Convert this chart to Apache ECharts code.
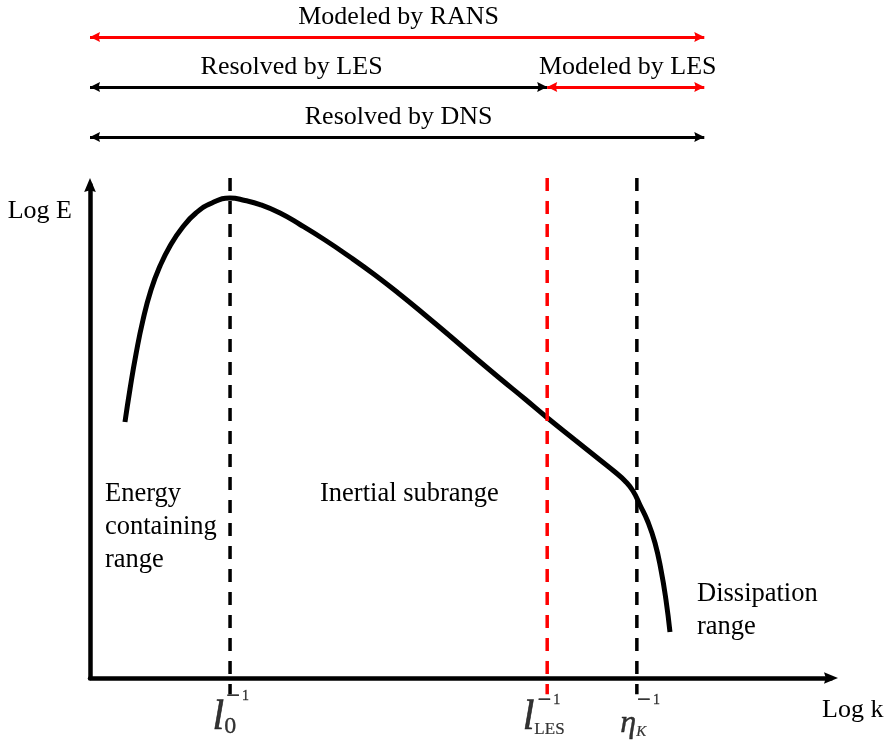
<!DOCTYPE html>
<html>
<head>
<meta charset="utf-8">
<script src="https://cdn.jsdelivr.net/npm/echarts@6/dist/echarts.min.js"></script>
<style>
  html, body { margin: 0; padding: 0; background: #fff; }
  #chart { width: 885px; height: 743px; }
</style>
</head>
<body>
<div id="chart"></div>
<script>
// Turbulent kinetic energy spectrum, log E against log k (arbitrary units 0..100)
const logK = [4.72, 5.40, 6.21, 7.15, 8.23, 9.45, 10.80, 12.42, 14.30, 16.46, 18.89,
              20.92, 22.94, 25.64, 28.34, 31.71, 35.09, 38.46, 41.84, 45.21, 48.58, 51.96, 55.33,
              58.70, 61.67, 65.45, 68.83, 70.85, 72.20, 73.28, 74.22, 75.30, 76.25, 77.06, 77.73, 78.27];
const logE = [51.93, 58.62, 65.72, 72.62, 78.70, 83.57, 87.63, 91.28, 94.32, 96.35, 97.36,
              96.86, 96.04, 94.32, 91.99, 88.84, 85.40, 81.74, 77.79, 73.63, 69.37, 65.01, 60.75,
              56.59, 52.84, 48.28, 44.22, 41.78, 39.96, 37.93, 35.09, 31.64, 27.38, 21.91, 15.82, 9.33];

// Characteristic wavenumbers: integral scale, LES filter, Kolmogorov scale
const scaleK = [18.9, 61.7, 73.8];
const scaleMain = ['{l|l}{n|0}', '{l|l}{les|LES}', '{eta|η}{kk|K}'];
const scaleSup = ['{m|−}{o|1}', '{m|−}{o|1}', '{m|−}{o|1}'];

// Resolved / modelled wavenumber ranges (row 0 = top)
const rangeNames = ['Modeled by RANS', 'Resolved by LES', 'Modeled by LES', 'Resolved by DNS'];
const rangeFrom  = [0, 0, 61.7, 0];
const rangeTo    = [82.9, 61.7, 82.9, 82.9];
const rangeRow   = [0, 1, 1, 2];
const rangeIsModel = [true, false, true, false];

// Spectral regions
const regionNames = ['Energy\ncontaining\nrange', 'Inertial subrange', 'Dissipation\nrange'];

const SERIF = '"Liberation Serif", "Times New Roman", serif';
const RED = '#ff0000';
const BLACK = '#000000';
const axisArrow = 'path://M5,0L10,12L5,10.4L0,12Z';
// arrow head whose tip sits at the symbol centre (upper half left empty)
const lineArrow = 'path://M5,0L5,0M5,10L10,20L5,18.6L0,20Z';

const guideTop = 101.4;
const guideBottom = -3.3;
const guideColor = [BLACK, RED, BLACK];

// label placement relative to each wavenumber (pixels)
const mainOffset = [[-17, 16.6], [-24, 16.6], [-16, 8.8]];
const supOffset  = [[-3, 19], [-9, 23], [1, 23]];

const chart = echarts.init(document.getElementById('chart'), null, { renderer: 'canvas' });

const series = [];

// energy spectrum curve
series.push({
  type: 'line',
  xAxisIndex: 0, yAxisIndex: 0,
  data: logK.map((k, i) => [k, logE[i]]),
  smooth: 0.5,
  symbol: 'none',
  lineStyle: { color: BLACK, width: 5 },
  z: 2,
  silent: true
});

// dashed guides at the characteristic wavenumbers
scaleK.forEach((k, i) => {
  series.push({
    type: 'line',
    xAxisIndex: 0, yAxisIndex: 0,
    data: [[k, guideTop], [k, guideBottom]],
    clip: false,
    symbol: 'none',
    lineStyle: { color: guideColor[i], width: 3.5, type: [13, 10] },
    z: 3,
    silent: true
  });
});

const glyph = (extra) => Object.assign({ fontFamily: SERIF, color: BLACK, verticalAlign: 'bottom',
  textBorderColor: BLACK, textBorderWidth: 0.6 }, extra);

// wavenumber symbols below the axis
series.push({
  type: 'scatter',
  xAxisIndex: 0, yAxisIndex: 0,
  clip: false,
  symbolSize: 1,
  itemStyle: { color: 'rgba(255,255,255,0)' },
  silent: true,
  z: 5,
  data: scaleK.map((k, i) => ({
    value: [k, 0],
    label: {
      show: true,
      position: mainOffset[i],
      align: 'left',
      verticalAlign: 'top',
      color: BLACK,
      formatter: scaleMain[i],
      rich: {
        l:   glyph({ fontStyle: 'italic', fontSize: 42, lineHeight: 44.4 }),
        n:   glyph({ fontSize: 24, lineHeight: 32.2, textBorderWidth: 0.3 }),
        les: glyph({ fontSize: 17, lineHeight: 23.5, textBorderWidth: 0.2 }),
        eta: glyph({ fontStyle: 'italic', fontSize: 32, lineHeight: 53.6, textBorderWidth: 0.4 }),
        kk:  glyph({ fontStyle: 'italic', fontSize: 15, lineHeight: 26.1, textBorderWidth: 0.2 })
      }
    }
  }))
});

// superscript -1 on each wavenumber
series.push({
  type: 'scatter',
  xAxisIndex: 0, yAxisIndex: 0,
  clip: false,
  symbolSize: 1,
  itemStyle: { color: 'rgba(255,255,255,0)' },
  silent: true,
  z: 5,
  data: scaleK.map((k, i) => ({
    value: [k, 0],
    label: {
      show: true,
      position: supOffset[i],
      align: 'left',
      verticalAlign: 'middle',
      color: BLACK,
      formatter: scaleSup[i],
      rich: {
        m: { fontFamily: SERIF, fontSize: 24, color: BLACK, verticalAlign: 'middle', textBorderColor: BLACK, textBorderWidth: 0.5 },
        o: { fontFamily: SERIF, fontSize: 14, color: BLACK, verticalAlign: 'middle', padding: [0, 0, 0, 2], textBorderColor: BLACK, textBorderWidth: 0.3 }
      }
    }
  }))
});

// double-headed range arrows above the plot
series.push({
  type: 'line',
  xAxisIndex: 1, yAxisIndex: 1,
  data: [],
  silent: true,
  markLine: {
    silent: true,
    symbol: [lineArrow, lineArrow],
    symbolSize: [10, 20],
    animation: false,
    data: rangeNames.map((name, i) => [
      {
        name: name,
        coord: [rangeFrom[i], rangeRow[i]],
        lineStyle: { color: rangeIsModel[i] ? RED : BLACK, width: 3, type: 'solid' },
        itemStyle: { color: rangeIsModel[i] ? RED : BLACK },
        label: {
          show: true,
          position: 'insideMiddleTop',
          distance: 6,
          formatter: '{b}',
          fontFamily: SERIF,
          fontSize: 26,
          lineHeight: 28,
          color: BLACK,
          padding: name === 'Resolved by LES' ? [0, 54, 0, 0] : (name === 'Modeled by LES' ? [0, 0, 0, 4] : [0, 0, 0, 3])
        }
      },
      { coord: [rangeTo[i], rangeRow[i]] }
    ])
  }
});

const option = {
  animation: false,
  backgroundColor: '#ffffff',
  grid: [
    { left: 90, right: 54, top: 185, bottom: 65, outerBoundsMode: 'none' },
    { left: 90, right: 54, top: 37, height: 100, outerBoundsMode: 'none' }
  ],
  xAxis: [
    {
      type: 'value', gridIndex: 0, min: 0, max: 100,
      name: 'Log k', nameLocation: 'end', nameGap: -9,
      nameTextStyle: { fontFamily: SERIF, fontSize: 26, color: BLACK, align: 'left', verticalAlign: 'top', lineHeight: 30, padding: [17, 0, 0, 0] },
      axisLine: { show: true, onZero: true, symbol: ['none', axisArrow], symbolSize: [13, 14], lineStyle: { color: BLACK, width: 4.5 } },
      axisTick: { show: false }, axisLabel: { show: false }, splitLine: { show: false }
    },
    { type: 'value', gridIndex: 1, min: 0, max: 100, show: false }
  ],
  yAxis: [
    {
      type: 'value', gridIndex: 0, min: 0, max: 100,
      name: 'Log E', nameLocation: 'end', nameGap: -26,
      nameTextStyle: { fontFamily: SERIF, fontSize: 26, color: BLACK, align: 'right', verticalAlign: 'middle', lineHeight: 30, padding: [0, 18, 0, 0] },
      axisLine: { show: true, symbol: ['none', axisArrow], symbolSize: [13, 14], lineStyle: { color: BLACK, width: 4.5 } },
      axisTick: { show: false }, axisLabel: { show: false }, splitLine: { show: false }
    },
    { type: 'value', gridIndex: 1, min: 0, max: 2, inverse: true, show: false }
  ],
  graphic: [
    { type: 'text', left: 105, top: 477.5, silent: true,
      style: { text: regionNames[0], fontFamily: SERIF, fontSize: 26.5, lineHeight: 33, fill: BLACK } },
    { type: 'text', left: 320, top: 477.5, silent: true,
      style: { text: regionNames[1], fontFamily: SERIF, fontSize: 26.5, lineHeight: 33, fill: BLACK } },
    { type: 'text', left: 697, top: 577.5, silent: true,
      style: { text: regionNames[2], fontFamily: SERIF, fontSize: 26.5, lineHeight: 33, fill: BLACK } }
  ],
  series: series
};

chart.setOption(option);
</script>
</body>
</html>
